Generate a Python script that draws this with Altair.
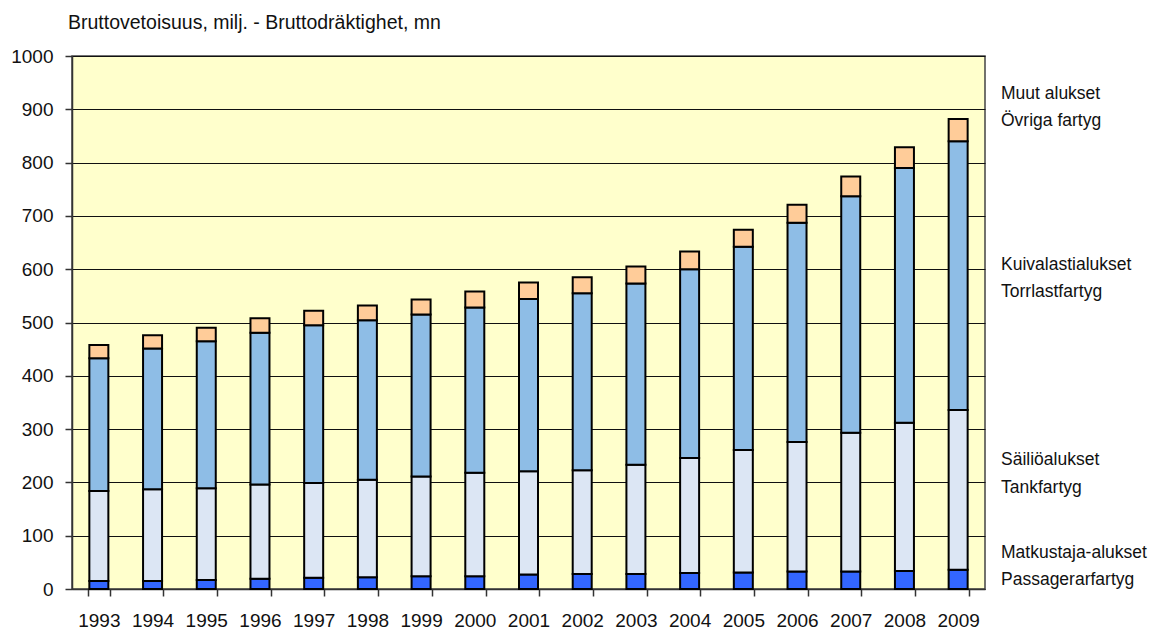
import altair as alt
import pandas as pd

years = [str(y) for y in range(1993, 2010)]
passenger = [15, 15, 17, 19, 21, 22, 24, 24, 27, 28, 28, 30, 31, 33, 33, 34, 36]
tanker = [169, 172, 172, 177, 178, 183, 187, 194, 194, 195, 205, 216, 230, 243, 260, 278, 300]
dry_cargo = [249, 264, 276, 285, 296, 299, 304, 310, 323, 332, 340, 354, 381, 411, 444, 478, 504]
other = [25, 25, 25, 27, 27, 28, 28, 30, 31, 30, 32, 33, 32, 34, 37, 39, 42]

series_names = ["Matkustaja-alukset", "Säiliöalukset", "Kuivalastialukset", "Muut alukset"]
series_values = [passenger, tanker, dry_cargo, other]
series_colors = ["#3366FF", "#DCE6F4", "#8EBDE6", "#FFCC99"]

title_text = "Bruttovetoisuus, milj. - Bruttodräktighet, mn"
legend_text = ["Muut alukset", "Övriga fartyg",
               "Kuivalastialukset", "Torrlastfartyg",
               "Säiliöalukset", "Tankfartyg",
               "Matkustaja-alukset", "Passagerarfartyg"]
# baseline pixel offsets from the plot top
legend_py = [43, 70, 214, 241, 409, 437, 502, 529]

FONT = "Liberation Sans Narrow, Arial Narrow, Liberation Sans, Arial, sans-serif"
FS = 19

rows = []
for i, (name, vals) in enumerate(zip(series_names, series_values)):
    for y, v in zip(years, vals):
        rows.append({"year": y, "series": name, "value": v, "order": i})
df = pd.DataFrame(rows)

bars = alt.Chart(df).mark_bar(size=19, stroke="black", strokeWidth=2).encode(
    x=alt.X("year:O", title=None,
            scale=alt.Scale(paddingInner=0.6, paddingOuter=0.3),
            axis=alt.Axis(labelAngle=0, tickBand="extent", tickSize=7,
                          labelPadding=15, labelFont=FONT, labelFontSize=FS,
                          labelColor="#111", domainColor="#333", tickColor="#333",
                          domainWidth=1.5, tickWidth=1.5, grid=False)),
    y=alt.Y("value:Q", title=None, stack="zero",
            scale=alt.Scale(domain=[0, 1000], nice=False),
            axis=alt.Axis(values=list(range(0, 1001, 100)), format="d", tickSize=7,
                          labelPadding=12, labelFont=FONT, labelFontSize=FS,
                          labelColor="#111", domainColor="#333", tickColor="#333",
                          domainWidth=1.5, tickWidth=1.5,
                          grid=True, gridColor="#111", gridWidth=1)),
    color=alt.Color("series:N", legend=None,
                    scale=alt.Scale(domain=series_names, range=series_colors)),
    order=alt.Order("order:Q", sort="ascending"),
)

legend_df = pd.DataFrame({"text": legend_text, "py": legend_py})
legend = alt.Chart(legend_df).mark_text(
    align="left", baseline="alphabetic", font=FONT, fontSize=17.5, color="#111"
).encode(
    x=alt.value(929),
    y=alt.Y("py:Q", scale=None),
    text="text:N",
)

title = alt.Chart(pd.DataFrame({"t": [title_text]})).mark_text(
    align="left", baseline="middle", font=FONT, fontSize=19.5, color="#111"
).encode(x=alt.value(-4), y=alt.value(-33), text="t:N")

chart = alt.layer(bars, legend, title).properties(
    width=913, height=533,
    autosize=alt.AutoSizeParams(type="none"),
    padding={"left": 64, "top": 48, "right": 164, "bottom": 40},
).configure_view(fill="#FFFFCC", stroke="#444", strokeWidth=1.5)

chart.save("out.html", embed_options={"renderer": "svg", "actions": False})
